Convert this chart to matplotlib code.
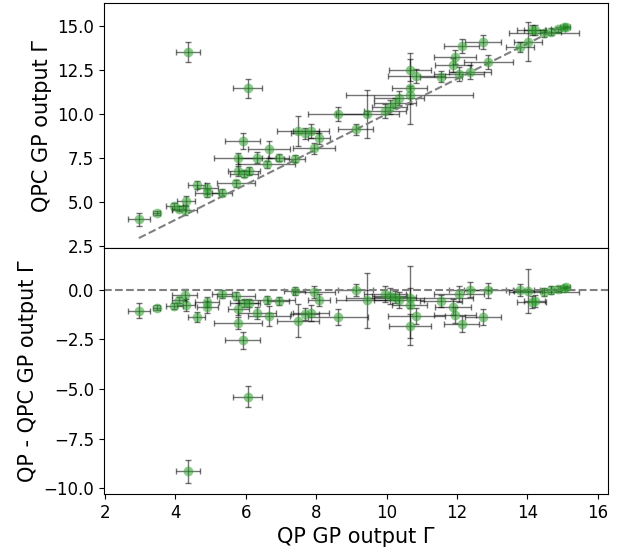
import numpy as np
import matplotlib
matplotlib.use('Agg')
import matplotlib.pyplot as plt

# QP GP output Gamma (x) and QPC GP output Gamma (y)
qp = np.array([2.96, 3.47, 3.97, 4.10, 4.26, 4.30, 4.35, 4.60, 4.90, 4.90,
               5.32, 5.72, 5.78, 5.91, 5.78, 5.95, 6.10, 6.06, 6.32, 6.59,
               6.66, 6.94, 7.39, 7.49, 7.68, 7.85, 7.94, 8.08, 8.62, 9.12,
               9.45, 9.95, 10.09, 10.24, 10.35, 10.66, 10.66, 10.66, 10.85, 11.54,
               11.89, 11.94, 12.06, 12.14, 12.37, 12.74, 12.89, 13.79, 14.02, 14.12,
               14.21, 14.47, 14.66, 14.86, 15.03, 15.10])
qpc = np.array([4.02, 4.39, 4.79, 4.64, 4.55, 5.06, 13.50, 5.97, 5.78, 5.52,
                5.53, 6.06, 7.48, 8.47, 6.78, 6.62, 6.77, 11.46, 7.52, 7.14,
                8.00, 7.52, 7.46, 9.05, 8.90, 9.05, 8.05, 8.62, 10.00, 9.13,
                10.00, 10.19, 10.42, 10.64, 10.89, 11.08, 11.46, 12.50, 12.16, 12.12,
                12.78, 13.22, 12.27, 13.88, 12.37, 14.11, 12.94, 13.82, 14.11, 14.77,
                14.77, 14.58, 14.68, 14.81, 14.96, 14.95])
qp_err = np.array([0.31, 0.10, 0.25, 0.20, 0.35, 0.25, 0.34, 0.24, 0.30, 0.35,
                   0.28, 0.54, 0.67, 0.50, 0.30, 0.40, 0.30, 0.41, 0.55, 0.80,
                   0.60, 0.30, 0.30, 0.60, 0.40, 0.50, 0.60, 0.30, 0.85, 0.50,
                   0.90, 0.60, 0.50, 0.60, 0.70, 1.80, 0.50, 0.60, 0.80, 0.60,
                   0.50, 0.60, 0.70, 0.50, 0.60, 0.50, 0.70, 0.40, 0.40, 0.40,
                   0.30, 1.00, 0.30, 0.20, 0.10, 0.10])
qpc_err = np.array([0.36, 0.12, 0.15, 0.15, 0.30, 0.30, 0.57, 0.25, 0.30, 0.25,
                    0.20, 0.20, 0.30, 0.43, 0.30, 0.20, 0.20, 0.53, 0.30, 0.20,
                    0.50, 0.20, 0.20, 0.85, 0.30, 0.40, 0.30, 0.30, 0.40, 0.30,
                    1.37, 0.40, 0.40, 0.30, 0.40, 0.50, 2.00, 0.60, 0.40, 0.30,
                    0.40, 0.40, 0.40, 0.40, 0.40, 0.40, 0.40, 0.30, 1.10, 0.30,
                    0.30, 0.20, 0.20, 0.15, 0.05, 0.05])

diff = qp - qpc

fig = plt.figure(figsize=(6.28, 5.49), dpi=100)
ax1 = fig.add_axes([0.1656, 0.548, 0.8024, 0.446])
ax2 = fig.add_axes([0.1656, 0.100, 0.8024, 0.448], sharex=ax1)

style = dict(fmt='o', color='#2ca02c', mec='none', ecolor='k', alpha=0.55,
             markersize=7, capsize=2, elinewidth=1)

ax1.errorbar(qp, qpc, xerr=qp_err, yerr=qpc_err, **style)
ax1.plot([qp.min(), qp.max()], [qp.min(), qp.max()], ls='--', color='grey', lw=1.5)
ax1.set_ylim(2.39, 16.29)
ax1.set_yticks([2.5, 5.0, 7.5, 10.0, 12.5, 15.0])
ax1.set_ylabel('QPC GP output Γ', fontsize=15)
ax1.tick_params(labelbottom=False, labelsize=12)

ax2.errorbar(qp, diff, xerr=qp_err, yerr=qpc_err, **style)
ax2.axhline(0, ls='--', color='grey', lw=1.5)
ax2.set_ylim(-10.29, 2.08)
ax2.set_yticks([-10.0, -7.5, -5.0, -2.5, 0.0])
ax2.set_xlim(1.97, 16.29)
ax2.set_xticks([2, 4, 6, 8, 10, 12, 14, 16])
ax2.set_xlabel('QP GP output Γ', fontsize=15)
ax2.set_ylabel('QP - QPC GP output Γ', fontsize=15)
ax2.tick_params(labelsize=12)

plt.savefig('out.png', dpi=100)
